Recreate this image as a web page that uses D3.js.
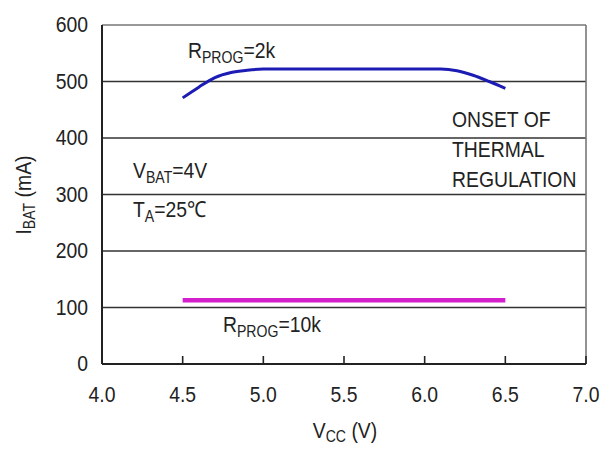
<!DOCTYPE html>
<html><head><meta charset="utf-8">
<script src="https://cdn.jsdelivr.net/npm/d3@7/dist/d3.min.js"></script>
<style>body{margin:0;background:#fff}text{font-family:"Liberation Sans",Arial,sans-serif;fill:#222}</style>
</head><body><svg id="c" width="600" height="452"></svg>
<script>
const xTicks = [4.0, 4.5, 5.0, 5.5, 6.0, 6.5, 7.0];
const yTicks = [0, 100, 200, 300, 400, 500, 600];
const vcc2k  = [4.5, 4.6, 4.7, 4.8, 4.9, 5.0, 5.5, 6.0, 6.1, 6.2, 6.3, 6.4, 6.5];
const ibat2k = [471, 490, 507, 516, 520, 522, 522, 522, 522, 519, 511, 500, 488];
const vcc10k  = [4.5, 6.5];
const ibat10k = [113, 113];

const svg = d3.select("#c");
const x = d3.scaleLinear().domain([4, 7]).range([102, 586]);
const y = d3.scaleLinear().domain([0, 600]).range([364, 25]);
const SX = 0.88, FS = 22;

// grid lines
svg.append("g").selectAll("line").data(yTicks.filter(d => d > 0 && d < 600)).join("line")
  .attr("x1", x(4)).attr("x2", x(7)).attr("y1", d => y(d)).attr("y2", d => y(d))
  .attr("stroke", "#333").attr("stroke-width", 1.6);
// frame top/right
svg.append("line").attr("x1", x(4)).attr("x2", x(7)).attr("y1", y(600)).attr("y2", y(600)).attr("stroke", "#777").attr("stroke-width", 1.6);
svg.append("line").attr("x1", x(7)).attr("x2", x(7)).attr("y1", y(600)).attr("y2", y(0)).attr("stroke", "#777").attr("stroke-width", 1.6);
// axes
svg.append("line").attr("x1", x(4)).attr("x2", x(4)).attr("y1", y(600)).attr("y2", y(0)).attr("stroke", "#222").attr("stroke-width", 2);
svg.append("line").attr("x1", x(4)).attr("x2", x(7)).attr("y1", y(0)).attr("y2", y(0)).attr("stroke", "#222").attr("stroke-width", 2);
// x ticks (inward)
svg.append("g").selectAll("line").data(xTicks.slice(1)).join("line")
  .attr("x1", d => x(d)).attr("x2", d => x(d)).attr("y1", y(0)).attr("y2", y(0) - 8)
  .attr("stroke", "#222").attr("stroke-width", 1.6);

function txt(px, py, anchor) {
  return svg.append("text").attr("transform", `translate(${px},${py}) scale(${SX},1)`)
    .attr("font-size", FS).attr("text-anchor", anchor || "start");
}
// tick labels
yTicks.forEach(d => txt(88, y(d) + 7, "end").text(d));
xTicks.forEach(d => txt(x(d), 402, "middle").text(d.toFixed(1)));

// series
const line = d3.line().x(d => x(d[0])).y(d => y(d[1])).curve(d3.curveMonotoneX);
svg.append("path").datum(vcc2k.map((v, i) => [v, ibat2k[i]])).attr("d", line)
  .attr("fill", "none").attr("stroke", "#1c1cb4").attr("stroke-width", 3);
svg.append("path").datum(vcc10k.map((v, i) => [v, ibat10k[i]])).attr("d", line)
  .attr("fill", "none").attr("stroke", "#d41fcc").attr("stroke-width", 4.5);

// labels with subscripts
function sub(px, py, main, s, rest) {
  const t = txt(px, py);
  t.append("tspan").text(main);
  t.append("tspan").attr("font-size", 16).attr("dy", 5).text(s);
  t.append("tspan").attr("dy", -5).text(rest);
  return t;
}
sub(188, 58, "R", "PROG", "=2k");
sub(223, 332, "R", "PROG", "=10k");
sub(133, 178, "V", "BAT", "=4V");
sub(133, 217, "T", "A", "=25\u2103");
txt(452, 127).text("ONSET OF");
txt(452, 157).text("THERMAL");
txt(452, 187).text("REGULATION");

// axis titles
const xt = txt(345, 438, "middle");
xt.append("tspan").text("V");
xt.append("tspan").attr("font-size", 16).attr("dy", 4).text("CC");
xt.append("tspan").attr("dy", -4).text(" (V)");
const yt = svg.append("text").attr("transform", `translate(31,195) rotate(-90) scale(${SX},1)`)
  .attr("font-size", FS).attr("text-anchor", "middle");
yt.append("tspan").text("I");
yt.append("tspan").attr("font-size", 16).attr("dy", 4).text("BAT");
yt.append("tspan").attr("dy", -4).text(" (mA)");
</script></body></html>
